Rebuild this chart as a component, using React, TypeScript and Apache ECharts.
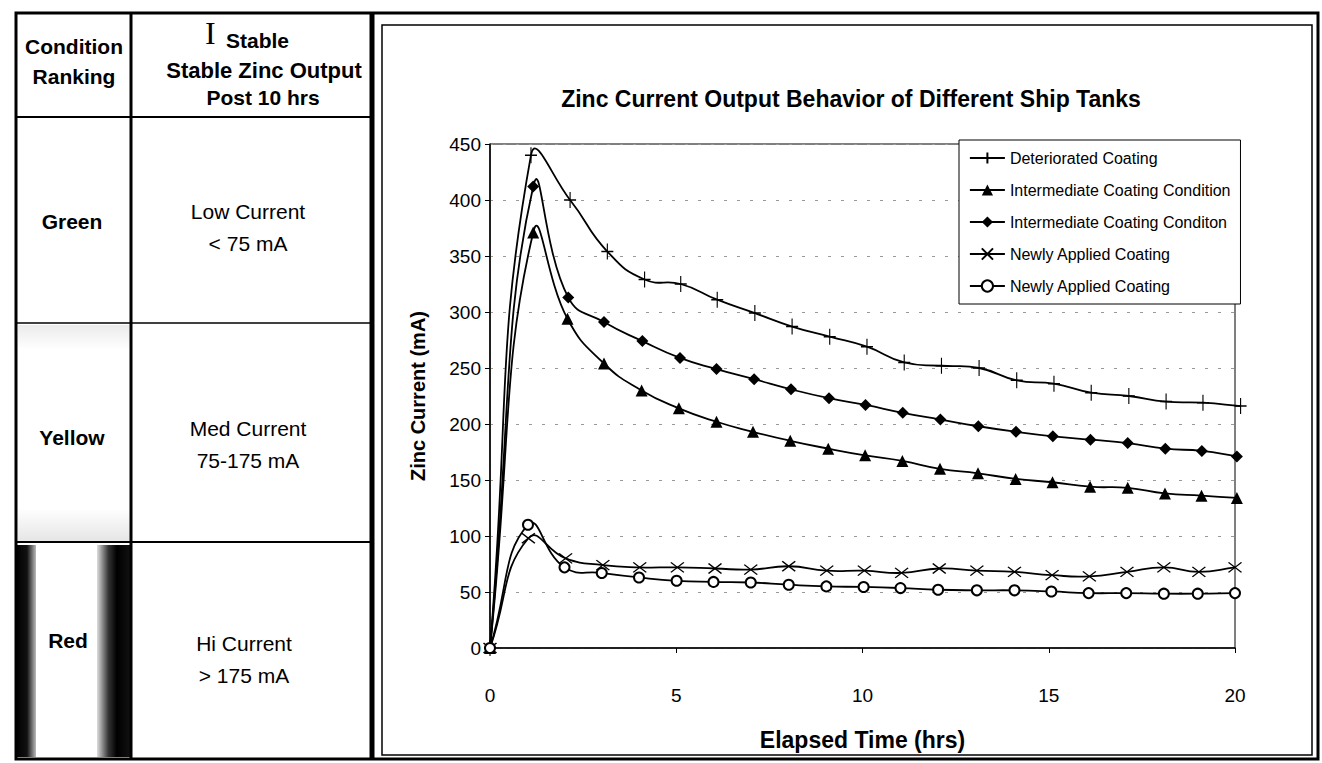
import React, { useEffect, useRef } from "react";
import * as echarts from "echarts";

const FONT = "'Liberation Sans', Arial, Helvetica, sans-serif";

// Elapsed time (hrs) and zinc current (mA)
const detTimes = [0, 1.1, 2.15, 3.15, 4.15, 5.12, 6.1, 7.11, 8.11, 9.12, 10.12, 11.12, 12.12, 13.13, 14.14, 15.14, 16.14, 17.15, 18.15, 19.14, 20.15];
const detValues = [0, 440, 400, 354, 329, 325, 311, 299, 287, 278, 269, 255, 252, 250, 239, 236, 228, 225, 220, 219, 216];

const triTimes = [0, 1.16, 2.08, 3.06, 4.07, 5.07, 6.08, 7.06, 8.06, 9.08, 10.07, 11.07, 12.08, 13.1, 14.11, 15.1, 16.11, 17.12, 18.12, 19.1, 20.05];
const triValues = [0, 371, 294, 254, 230, 214, 202, 193, 185, 178, 172, 167, 160, 156, 151, 148, 144, 143, 138, 136, 134];

const diaTimes = [0, 1.16, 2.1, 3.06, 4.09, 5.1, 6.08, 7.09, 8.08, 9.1, 10.08, 11.08, 12.09, 13.11, 14.12, 15.11, 16.12, 17.12, 18.13, 19.11, 20.05];
const diaValues = [0, 412, 313, 291, 274, 259, 249, 240, 231, 223, 217, 210, 204, 198, 193, 189, 186, 183, 178, 176, 171];

const xTimes = [0, 1.03, 2.03, 3.03, 4.02, 5.03, 6.04, 7.0, 8.02, 9.04, 10.05, 11.05, 12.06, 13.07, 14.08, 15.09, 16.09, 17.1, 18.09, 19.03, 20.0];
const xValues = [0, 98, 80, 74, 72, 72, 71, 70, 73, 69, 69, 67, 71, 69, 68, 65, 64, 68, 72, 68, 72];

const oTimes = [0, 1.02, 2.0, 3.0, 4.0, 5.01, 6.0, 7.0, 8.02, 9.03, 10.03, 11.02, 12.03, 13.07, 14.08, 15.07, 16.07, 17.08, 18.09, 19.0, 20.0];
const oValues = [0, 110, 72, 67, 63, 60, 59, 58.5, 56.5, 55, 54.5, 53.5, 52, 51.5, 51.5, 50.5, 49, 49, 48.5, 48.5, 49];

const seriesNames = [
  "Deteriorated Coating",
  "Intermediate Coating Condition",
  "Intermediate Coating Conditon",
  "Newly Applied Coating",
  "Newly Applied Coating ",
];

const xTicks = [0, 5, 10, 15, 20];
const yTicks = [0, 50, 100, 150, 200, 250, 300, 350, 400, 450];

// Table content
const tableHeader = ["Condition", "Ranking"];
const stableHeader = ["Stable Zinc Output", "Post 10 hrs"];
const rankings = ["Green", "Yellow", "Red"];
const currentLabels = [
  ["Low Current", "< 75 mA"],
  ["Med Current", "75-175 mA"],
  ["Hi Current", "> 175 mA"],
];

const pairs = (t: number[], v: number[]) => t.map((x, i) => [x, v[i]]);

// Smoothed curve (unconstrained, spreadsheet-like) drawn segment by segment
// through the chart's own coordinate system.
const SMOOTH = 0.5;
function curveRenderer(times: number[], values: number[]) {
  return (params: any, api: any) => {
    const i = params.dataIndex;
    const n = times.length;
    if (i >= n - 1) return null;
    const pts = times.map((t, k) => api.coord([t, values[k]]));
    const ctrl = (k: number) => {
      const p = pts[k];
      const prev = pts[Math.max(0, k - 1)];
      const next = pts[Math.min(n - 1, k + 1)];
      const vx = next[0] - prev[0];
      const vy = next[1] - prev[1];
      const l0 = Math.hypot(p[0] - prev[0], p[1] - prev[1]);
      const l1 = Math.hypot(next[0] - p[0], next[1] - p[1]);
      const r = l0 + l1 > 0 ? l1 / (l0 + l1) : 0.5;
      return {
        outX: p[0] + vx * SMOOTH * r,
        outY: p[1] + vy * SMOOTH * r,
        inX: p[0] - vx * SMOOTH * (1 - r),
        inY: p[1] - vy * SMOOTH * (1 - r),
      };
    };
    const a = ctrl(i);
    const b = ctrl(i + 1);
    return {
      type: "bezierCurve",
      shape: {
        x1: pts[i][0],
        y1: pts[i][1],
        cpx1: a.outX,
        cpy1: a.outY,
        cpx2: b.inX,
        cpy2: b.inY,
        x2: pts[i + 1][0],
        y2: pts[i + 1][1],
      },
      style: { stroke: "#000", lineWidth: 1.8, fill: null },
      silent: true,
    };
  };
}

export default function App() {
  const ref = useRef<HTMLDivElement>(null);

  useEffect(() => {
    if (!ref.current) return;
    const chart = echarts.init(ref.current, undefined, { renderer: "svg" });

    const markerBase = {
      type: "line",
      lineStyle: { color: "#000", width: 1.8, opacity: 0 },
      clip: false,
      z: 4,
    };

    const dataSets = [
      [detTimes, detValues],
      [triTimes, triValues],
      [diaTimes, diaValues],
      [xTimes, xValues],
      [oTimes, oValues],
    ];

    const markerStyles = [
      { symbol: "path://M5,0L5,10M0,5L10,5", symbolSize: [12, 16], itemStyle: { color: "#000", borderColor: "#000", borderWidth: 1.3 } },
      { symbol: "triangle", symbolSize: 12, itemStyle: { color: "#000" } },
      { symbol: "diamond", symbolSize: 12, itemStyle: { color: "#000" } },
      { symbol: "path://M0,0L10,10M10,0L0,10", symbolSize: [13, 10], itemStyle: { color: "#000", borderColor: "#000", borderWidth: 1.3 } },
      { symbol: "emptyCircle", symbolSize: 10, itemStyle: { color: "#000", borderColor: "#000", borderWidth: 1.2 } },
    ];

    const markerSeries = dataSets.map(([t, v], i) => ({
      ...markerBase,
      name: seriesNames[i],
      data: pairs(t, v),
      ...markerStyles[i],
    }));

    const curveSeries = dataSets.map(([t, v], i) => ({
      type: "custom",
      name: seriesNames[i],
      data: pairs(t, v),
      encode: { x: 0, y: 1 },
      renderItem: curveRenderer(t, v),
      clip: false,
      silent: true,
      z: 3,
    }));

    const rowCenters = [221, 437, 640];
    const currentCenters = [
      [211, 243],
      [428, 460],
      [643, 675],
    ];

    const graphic: any[] = [
      // Red cell dark scanned edges
      {
        type: "rect",
        shape: { x: 16, y: 545, width: 20, height: 212 },
        style: {
          fill: new echarts.graphic.LinearGradient(0, 0, 1, 0, [
            { offset: 0, color: "#000" },
            { offset: 0.55, color: "#111" },
            { offset: 1, color: "#bbb" },
          ]),
        },
        z: 1,
      },
      {
        type: "rect",
        shape: { x: 97, y: 545, width: 33, height: 212 },
        style: {
          fill: new echarts.graphic.LinearGradient(0, 0, 1, 0, [
            { offset: 0, color: "#ddd" },
            { offset: 0.35, color: "#333" },
            { offset: 0.6, color: "#000" },
            { offset: 1, color: "#111" },
          ]),
        },
        z: 1,
      },
      // Yellow / green scanned speckle
      {
        type: "rect",
        shape: { x: 18, y: 508, width: 112, height: 33 },
        style: {
          fill: new echarts.graphic.LinearGradient(0, 0, 0, 1, [
            { offset: 0, color: "rgba(0,0,0,0)" },
            { offset: 1, color: "rgba(0,0,0,0.1)" },
          ]),
        },
        z: 1,
      },
      {
        type: "rect",
        shape: { x: 18, y: 325, width: 112, height: 25 },
        style: {
          fill: new echarts.graphic.LinearGradient(0, 0, 0, 1, [
            { offset: 0, color: "rgba(0,0,0,0.08)" },
            { offset: 1, color: "rgba(0,0,0,0)" },
          ]),
        },
        z: 1,
      },
      // outer frame
      {
        type: "rect",
        shape: { x: 16, y: 13, width: 1302, height: 746 },
        style: { fill: "none", stroke: "#000", lineWidth: 3 },
        z: 2,
      },
      // table right border (thick)
      {
        type: "line",
        shape: { x1: 372, y1: 13, x2: 372, y2: 759 },
        style: { stroke: "#000", lineWidth: 5 },
        z: 2,
      },
      // chart inner frame
      {
        type: "rect",
        shape: { x: 382, y: 25, width: 930, height: 730 },
        style: { fill: "none", stroke: "#000", lineWidth: 1.5 },
        z: 2,
      },
      // table column divider
      {
        type: "line",
        shape: { x1: 131, y1: 13, x2: 131, y2: 759 },
        style: { stroke: "#000", lineWidth: 3 },
        z: 2,
      },
      // table row lines
      {
        type: "line",
        shape: { x1: 16, y1: 117, x2: 372, y2: 117 },
        style: { stroke: "#000", lineWidth: 2 },
        z: 2,
      },
      {
        type: "line",
        shape: { x1: 16, y1: 323, x2: 372, y2: 323 },
        style: { stroke: "#000", lineWidth: 1.5 },
        z: 2,
      },
      {
        type: "line",
        shape: { x1: 16, y1: 542, x2: 372, y2: 542 },
        style: { stroke: "#000", lineWidth: 2 },
        z: 2,
      },
      // header texts
      {
        type: "text",
        x: 74,
        y: 46,
        style: { text: tableHeader[0], fontSize: 21, fontWeight: "bold", fontFamily: FONT, fill: "#000", align: "center", verticalAlign: "middle" },
        z: 3,
      },
      {
        type: "text",
        x: 74,
        y: 76,
        style: { text: tableHeader[1], fontSize: 21, fontWeight: "bold", fontFamily: FONT, fill: "#000", align: "center", verticalAlign: "middle" },
        z: 3,
      },
      {
        type: "text",
        x: 205,
        y: 33,
        style: { text: "I", fontSize: 32, fontFamily: "'Liberation Serif', 'Times New Roman', serif", fill: "#000", align: "left", verticalAlign: "middle" },
        z: 3,
      },
      {
        type: "text",
        x: 226,
        y: 40,
        style: { text: "Stable", fontSize: 21, fontWeight: "bold", fontFamily: FONT, fill: "#000", align: "left", verticalAlign: "middle" },
        z: 3,
      },
      {
        type: "text",
        x: 264,
        y: 70,
        style: { text: stableHeader[0], fontSize: 22, fontWeight: "bold", fontFamily: FONT, fill: "#000", align: "center", verticalAlign: "middle" },
        z: 3,
      },
      {
        type: "text",
        x: 263,
        y: 97,
        style: { text: stableHeader[1], fontSize: 21, fontWeight: "bold", fontFamily: FONT, fill: "#000", align: "center", verticalAlign: "middle" },
        z: 3,
      },
    ];

    rankings.forEach((r, i) => {
      graphic.push({
        type: "text",
        x: i === 2 ? 68 : 72,
        y: rowCenters[i],
        style: { text: r, fontSize: 21, fontWeight: "bold", fontFamily: FONT, fill: "#000", align: "center", verticalAlign: "middle" },
        z: 3,
      });
      currentLabels[i].forEach((t, j) => {
        graphic.push({
          type: "text",
          x: i === 2 ? 244 : 248,
          y: currentCenters[i][j],
          style: { text: t, fontSize: 21, fontFamily: FONT, fill: "#000", align: "center", verticalAlign: "middle" },
          z: 3,
        });
      });
    });

    chart.setOption({
      animation: false,
      backgroundColor: "#fff",
      textStyle: { fontFamily: FONT, color: "#000" },
      title: {
        text: "Zinc Current Output Behavior of Different Ship Tanks",
        left: 846,
        top: 82,
        textAlign: "center",
        textStyle: { fontSize: 23, fontWeight: "bold", color: "#000", fontFamily: FONT },
      },
      legend: {
        orient: "vertical",
        left: 959,
        top: 140,
        itemWidth: 35,
        itemHeight: 14,
        itemGap: 16,
        padding: [10, 10, 10, 10],
        borderColor: "#000",
        borderWidth: 1,
        backgroundColor: "#fff",
        textStyle: { fontSize: 16, color: "#000", fontFamily: FONT },
        lineStyle: { color: "#000", width: 1.8, opacity: 1, type: "solid" },
        data: seriesNames,
      },
      grid: {
        left: 490,
        right: 87,
        top: 144,
        bottom: 115,
        show: true,
        borderColor: "#000",
        borderWidth: 1,
        backgroundColor: "transparent",
      },
      xAxis: {
        type: "value",
        min: xTicks[0],
        max: xTicks[xTicks.length - 1],
        interval: 5,
        axisLine: { show: true, lineStyle: { color: "#000", width: 1.5 } },
        axisTick: { show: true, length: 5, lineStyle: { color: "#000" } },
        axisLabel: { fontSize: 19, color: "#000", margin: 38, fontFamily: FONT },
        splitLine: { show: false },
        name: "Elapsed Time (hrs)",
        nameLocation: "middle",
        nameGap: 80,
        nameTextStyle: { fontSize: 23, fontWeight: "bold", color: "#000", fontFamily: FONT },
      },
      yAxis: {
        type: "value",
        min: yTicks[0],
        max: yTicks[yTicks.length - 1],
        interval: 50,
        axisLine: { show: true, lineStyle: { color: "#000", width: 1.5 } },
        axisTick: { show: true, length: 5, lineStyle: { color: "#000" } },
        axisLabel: { fontSize: 19, color: "#000", margin: 9, fontFamily: FONT },
        splitLine: { show: true, lineStyle: { color: "#999", width: 1, type: [3, 10] } },
        name: "Zinc Current (mA)",
        nameLocation: "middle",
        nameGap: 62,
        nameRotate: 90,
        nameTextStyle: { fontSize: 20, fontWeight: "bold", color: "#000", fontFamily: FONT },
      },
      graphic,
      series: [...markerSeries, ...curveSeries],
    });

    return () => chart.dispose();
  }, []);

  return (
    <div
      ref={ref}
      style={{ position: "absolute", left: 0, top: 0, width: 1322, height: 763, background: "#fff" }}
    />
  );
}
